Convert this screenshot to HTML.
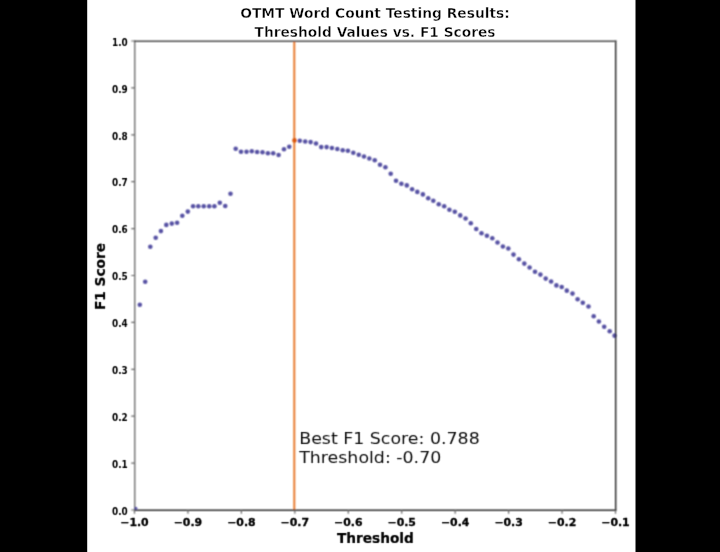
<!DOCTYPE html>
<html><head><meta charset="utf-8"><title>OTMT Word Count Testing Results</title>
<style>html,body{margin:0;padding:0;background:#000;width:720px;height:552px;overflow:hidden}svg{display:block}</style>
</head><body>
<svg width="720" height="552" viewBox="0 0 720 552">
<rect x="0" y="0" width="720" height="552" fill="#000"/>
<rect x="87.2" y="0" width="548.3" height="552" fill="#fff"/>
<defs><filter id="fg" x="-5%" y="-5%" width="110%" height="110%"><feConvolveMatrix order="3" kernelMatrix="1 2 1 2 4 2 1 2 1" divisor="16" edgeMode="none"/></filter><filter id="ft" x="-5%" y="-5%" width="110%" height="110%"><feConvolveMatrix order="3" kernelMatrix="0 1 0 1 4 1 0 1 0" divisor="8" edgeMode="none"/></filter></defs>
<g filter="url(#fg)">
<path d="M294.3 41.3V510.2" stroke="#e87c30" stroke-width="2"/>
<g fill="#5853a4">
<circle cx="139.8" cy="304.8" r="2.3"/>
<circle cx="145.2" cy="281.7" r="2.3"/>
<circle cx="150.3" cy="246.7" r="2.3"/>
<circle cx="155.7" cy="237.8" r="2.3"/>
<circle cx="160.9" cy="231.1" r="2.3"/>
<circle cx="166.3" cy="224.9" r="2.3"/>
<circle cx="171.8" cy="223.6" r="2.3"/>
<circle cx="177.1" cy="222.7" r="2.3"/>
<circle cx="182.3" cy="215.8" r="2.3"/>
<circle cx="187.8" cy="211.6" r="2.3"/>
<circle cx="193.1" cy="206.3" r="2.3"/>
<circle cx="198.3" cy="206.3" r="2.3"/>
<circle cx="203.75" cy="206.3" r="2.3"/>
<circle cx="209.2" cy="206.3" r="2.3"/>
<circle cx="214.4" cy="206.3" r="2.3"/>
<circle cx="219.8" cy="202.8" r="2.3"/>
<circle cx="225.25" cy="206.0" r="2.3"/>
<circle cx="230.5" cy="193.75" r="2.3"/>
<circle cx="235.7" cy="148.7" r="2.3"/>
<circle cx="241.0" cy="151.7" r="2.3"/>
<circle cx="246.5" cy="151.7" r="2.3"/>
<circle cx="251.8" cy="151.3" r="2.3"/>
<circle cx="257.1" cy="152.0" r="2.3"/>
<circle cx="262.5" cy="152.3" r="2.3"/>
<circle cx="267.9" cy="153.2" r="2.3"/>
<circle cx="273.2" cy="153.2" r="2.3"/>
<circle cx="278.6" cy="155.0" r="2.3"/>
<circle cx="284.0" cy="149.2" r="2.3"/>
<circle cx="289.25" cy="146.7" r="2.3"/>
<circle cx="299.8" cy="140.7" r="2.3"/>
<circle cx="305.2" cy="141.5" r="2.3"/>
<circle cx="310.6" cy="142.1" r="2.3"/>
<circle cx="316.0" cy="143.5" r="2.3"/>
<circle cx="321.2" cy="147.1" r="2.3"/>
<circle cx="326.6" cy="147.1" r="2.3"/>
<circle cx="331.9" cy="148.0" r="2.3"/>
<circle cx="337.3" cy="149.0" r="2.3"/>
<circle cx="342.7" cy="150.2" r="2.3"/>
<circle cx="347.9" cy="150.8" r="2.3"/>
<circle cx="353.3" cy="152.7" r="2.3"/>
<circle cx="358.75" cy="154.8" r="2.3"/>
<circle cx="364.0" cy="156.5" r="2.3"/>
<circle cx="369.3" cy="158.5" r="2.3"/>
<circle cx="374.75" cy="160.2" r="2.3"/>
<circle cx="380.0" cy="164.8" r="2.3"/>
<circle cx="385.4" cy="167.3" r="2.3"/>
<circle cx="390.7" cy="173.75" r="2.3"/>
<circle cx="396.0" cy="180.8" r="2.3"/>
<circle cx="401.4" cy="183.75" r="2.3"/>
<circle cx="406.8" cy="185.4" r="2.3"/>
<circle cx="412.1" cy="189.2" r="2.3"/>
<circle cx="417.3" cy="191.9" r="2.3"/>
<circle cx="422.9" cy="194.4" r="2.3"/>
<circle cx="428.2" cy="198.2" r="2.3"/>
<circle cx="433.3" cy="200.8" r="2.3"/>
<circle cx="438.75" cy="204.3" r="2.3"/>
<circle cx="444.2" cy="206.25" r="2.3"/>
<circle cx="449.4" cy="209.75" r="2.3"/>
<circle cx="454.8" cy="211.8" r="2.3"/>
<circle cx="460.25" cy="215.4" r="2.3"/>
<circle cx="465.6" cy="218.5" r="2.3"/>
<circle cx="470.8" cy="223.3" r="2.3"/>
<circle cx="476.25" cy="229.0" r="2.3"/>
<circle cx="481.5" cy="233.2" r="2.3"/>
<circle cx="486.9" cy="235.8" r="2.3"/>
<circle cx="492.3" cy="238.2" r="2.3"/>
<circle cx="497.5" cy="242.5" r="2.3"/>
<circle cx="502.9" cy="246.5" r="2.3"/>
<circle cx="508.3" cy="248.5" r="2.3"/>
<circle cx="513.5" cy="254.6" r="2.3"/>
<circle cx="518.9" cy="259.2" r="2.3"/>
<circle cx="524.3" cy="263.6" r="2.3"/>
<circle cx="529.6" cy="267.5" r="2.3"/>
<circle cx="535.0" cy="271.7" r="2.3"/>
<circle cx="540.4" cy="274.6" r="2.3"/>
<circle cx="545.7" cy="278.6" r="2.3"/>
<circle cx="551.1" cy="281.5" r="2.3"/>
<circle cx="556.4" cy="285.4" r="2.3"/>
<circle cx="561.7" cy="287.0" r="2.3"/>
<circle cx="566.8" cy="290.65" r="2.3"/>
<circle cx="572.5" cy="293.6" r="2.3"/>
<circle cx="577.6" cy="299.3" r="2.3"/>
<circle cx="582.8" cy="302.8" r="2.3"/>
<circle cx="588.5" cy="306.5" r="2.3"/>
<circle cx="593.7" cy="316.2" r="2.3"/>
<circle cx="598.9" cy="321.5" r="2.3"/>
<circle cx="604.2" cy="326.7" r="2.3"/>
<circle cx="609.7" cy="331.3" r="2.3"/>
<circle cx="614.6" cy="335.65" r="2.3"/>
</g>
<circle cx="294.5" cy="140.4" r="2.3" fill="#d9570e"/>
<path d="M134.75 40.599999999999994V510.9" stroke="#707070" stroke-width="1.4" fill="none"/>
<path d="M615.67 40.599999999999994V510.9" stroke="#222" stroke-width="1.4" fill="none"/>
<path d="M134.05 41.3H616.37" stroke="#4c4c4c" stroke-width="1.4" fill="none"/>
<path d="M134.05 510.2H616.37" stroke="#2c2c2c" stroke-width="1.4" fill="none"/>
<circle cx="135.9" cy="508.3" r="1.5" fill="#5853a4"/>
<path d="M131.25 510.00H134.75 M131.25 463.10H134.75 M131.25 416.20H134.75 M131.25 369.30H134.75 M131.25 322.40H134.75 M131.25 275.50H134.75 M131.25 228.60H134.75 M131.25 181.70H134.75 M131.25 134.80H134.75 M131.25 87.90H134.75 M131.25 41.00H134.75 M134.50 510.2V513.7 M187.94 510.2V513.7 M241.39 510.2V513.7 M294.83 510.2V513.7 M348.28 510.2V513.7 M401.72 510.2V513.7 M455.17 510.2V513.7 M508.61 510.2V513.7 M562.06 510.2V513.7 M615.50 510.2V513.7" stroke="#666" stroke-width="1.2" fill="none"/>
</g>
<g filter="url(#ft)">
<g font-family="DejaVu Sans, Liberation Sans, sans-serif" font-size="10" font-weight="bold" fill="#000" stroke="#000" stroke-width="0.3">
<text transform="translate(127.8 514.70) scale(1 0.97)" text-anchor="end" textLength="15.75" lengthAdjust="spacingAndGlyphs" stroke="#fff" stroke-width="0">0.0</text>
<text transform="translate(127.8 467.80) scale(1 0.97)" text-anchor="end" textLength="15.75" lengthAdjust="spacingAndGlyphs" stroke="#fff" stroke-width="0">0.1</text>
<text transform="translate(127.8 420.90) scale(1 0.97)" text-anchor="end" textLength="15.75" lengthAdjust="spacingAndGlyphs" stroke="#fff" stroke-width="0">0.2</text>
<text transform="translate(127.8 374.00) scale(1 0.97)" text-anchor="end" textLength="15.75" lengthAdjust="spacingAndGlyphs" stroke="#fff" stroke-width="0">0.3</text>
<text transform="translate(127.8 327.10) scale(1 0.97)" text-anchor="end" textLength="15.75" lengthAdjust="spacingAndGlyphs" stroke="#fff" stroke-width="0">0.4</text>
<text transform="translate(127.8 280.20) scale(1 0.97)" text-anchor="end" textLength="15.75" lengthAdjust="spacingAndGlyphs" stroke="#fff" stroke-width="0">0.5</text>
<text transform="translate(127.8 233.30) scale(1 0.97)" text-anchor="end" textLength="15.75" lengthAdjust="spacingAndGlyphs" stroke="#fff" stroke-width="0">0.6</text>
<text transform="translate(127.8 186.40) scale(1 0.97)" text-anchor="end" textLength="15.75" lengthAdjust="spacingAndGlyphs" stroke="#fff" stroke-width="0">0.7</text>
<text transform="translate(127.8 139.50) scale(1 0.97)" text-anchor="end" textLength="15.75" lengthAdjust="spacingAndGlyphs" stroke="#fff" stroke-width="0">0.8</text>
<text transform="translate(127.8 92.60) scale(1 0.97)" text-anchor="end" textLength="15.75" lengthAdjust="spacingAndGlyphs" stroke="#fff" stroke-width="0">0.9</text>
<text transform="translate(127.8 45.70) scale(1 0.97)" text-anchor="end" textLength="15.75" lengthAdjust="spacingAndGlyphs" stroke="#fff" stroke-width="0">1.0</text>
<text x="134.50" y="525.5" text-anchor="middle" textLength="28.4" lengthAdjust="spacingAndGlyphs">−1.0</text>
<text x="187.94" y="525.5" text-anchor="middle" textLength="28.4" lengthAdjust="spacingAndGlyphs">−0.9</text>
<text x="241.39" y="525.5" text-anchor="middle" textLength="28.4" lengthAdjust="spacingAndGlyphs">−0.8</text>
<text x="294.83" y="525.5" text-anchor="middle" textLength="28.4" lengthAdjust="spacingAndGlyphs">−0.7</text>
<text x="348.28" y="525.5" text-anchor="middle" textLength="28.4" lengthAdjust="spacingAndGlyphs">−0.6</text>
<text x="401.72" y="525.5" text-anchor="middle" textLength="28.4" lengthAdjust="spacingAndGlyphs">−0.5</text>
<text x="455.17" y="525.5" text-anchor="middle" textLength="28.4" lengthAdjust="spacingAndGlyphs">−0.4</text>
<text x="508.61" y="525.5" text-anchor="middle" textLength="28.4" lengthAdjust="spacingAndGlyphs">−0.3</text>
<text x="562.06" y="525.5" text-anchor="middle" textLength="28.4" lengthAdjust="spacingAndGlyphs">−0.2</text>
<text x="615.50" y="525.5" text-anchor="middle" textLength="28.4" lengthAdjust="spacingAndGlyphs">−0.1</text>
</g>
<g font-family="DejaVu Sans, Liberation Sans, sans-serif" font-size="13.7" font-weight="bold" fill="#000" stroke="#000" stroke-width="0.2" text-anchor="middle">
<text x="375.4" y="543.2">Threshold</text>
<text transform="translate(105.4 276.5) rotate(-90)">F1 Score</text>
</g>
<g font-family="DejaVu Sans, Liberation Sans, sans-serif" font-size="17.4" fill="#111" stroke="#fff" stroke-width="0">
<text transform="translate(299.2 443.8) scale(1 0.94)">Best F1 Score: 0.788</text>
<text transform="translate(299.2 463.1) scale(1 0.94)">Threshold: -0.70</text>
</g>
</g>
<g><g font-family="DejaVu Sans, Liberation Sans, sans-serif" font-size="13.8" font-weight="bold" fill="#000" stroke="#fff" stroke-width="0.4" text-anchor="middle">
<text transform="translate(375 17.7) scale(1 1.0)" textLength="269.7" lengthAdjust="spacingAndGlyphs">OTMT Word Count Testing Results:</text>
<text transform="translate(375 37.0) scale(1 1.06)" textLength="241.0" lengthAdjust="spacingAndGlyphs">Threshold Values vs. F1 Scores</text>
</g></g>
</svg>
</body></html>
